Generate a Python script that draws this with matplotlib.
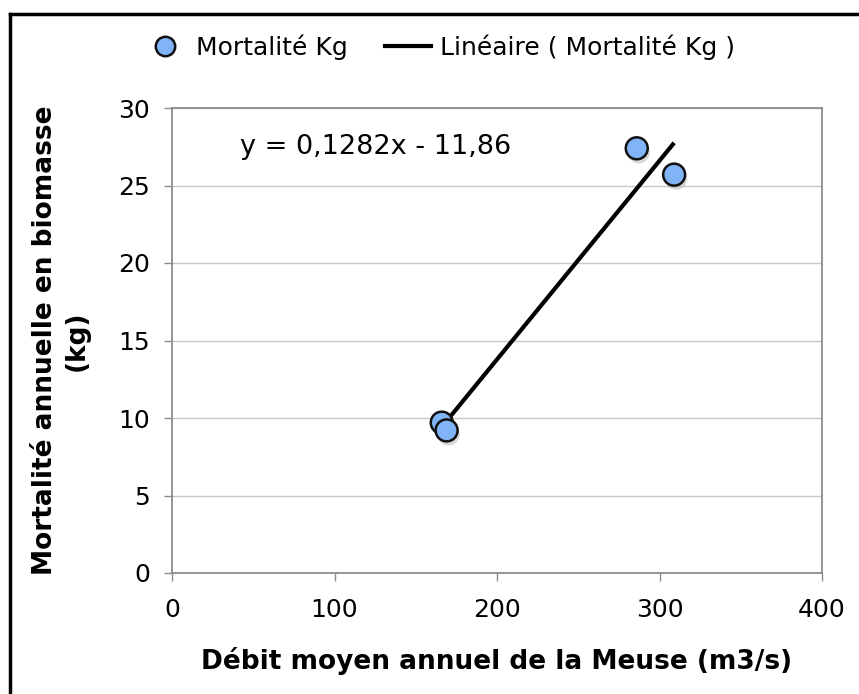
import numpy as np
import matplotlib
matplotlib.use("Agg")
import matplotlib.pyplot as plt
from matplotlib import patheffects
from matplotlib.lines import Line2D

plt.rcParams["font.family"] = ["DejaVu Sans"]

# data
debit = [166, 169, 286, 309]
mortalite = [9.7, 9.2, 27.4, 25.7]
# trend line as printed on the chart
slope = 0.1282
intercept = -11.86
x_ticks = [0, 100, 200, 300, 400]
y_ticks = [0, 5, 10, 15, 20, 25, 30]

fig = plt.figure(figsize=(8.59, 6.94), dpi=100)
ax = fig.add_axes([172 / 859, 1 - 573 / 694, 650 / 859, 465 / 694])

grey = "#8c8c8c"
ax.set_xlim(0, 400)
ax.set_ylim(0, 30)
ax.set_xticks(x_ticks)
ax.set_yticks(y_ticks)
ax.yaxis.grid(True, color="#c8c8c8", lw=1)
ax.set_axisbelow(True)
for s in ax.spines.values():
    s.set_color(grey)
    s.set_linewidth(1.3)
ax.tick_params(direction="out", length=6, width=1, color=grey, labelsize=18)
ax.tick_params(axis="x", pad=12)
ax.tick_params(axis="y", pad=10)

# trend line
xl = np.array([min(debit), max(debit)])
ax.plot(xl, slope * xl + intercept, color="black", lw=3, solid_capstyle="butt",
        zorder=2, label="Linéaire ( Mortalité Kg )")

sc = ax.scatter(debit, mortalite, s=250, color="#80b4f7", edgecolor="#111111",
                linewidth=1.8, zorder=3, label="Mortalité Kg",
                path_effects=[patheffects.SimplePatchShadow(offset=(1.5, -3), shadow_rgbFace="#aaaaaa", alpha=0.45),
                              patheffects.Normal()])

ax.text(42, 27.5, "y = 0,1282x - 11,86", fontsize=19.5, va="center", ha="left")

ax.set_xlabel("Débit moyen annuel de la Meuse (m3/s)", fontsize=19, fontweight="bold", labelpad=18)
ax.set_ylabel("Mortalité annuelle en biomasse\n(kg)", fontsize=19, fontweight="bold", labelpad=20,
              linespacing=1.3)

handles = [Line2D([], [], marker="o", ls="none", markersize=14, markerfacecolor="#80b4f7",
                  markeredgecolor="#111111", markeredgewidth=1.8),
           Line2D([], [], color="black", lw=3)]
fig.legend(handles, ["Mortalité Kg", "Linéaire ( Mortalité Kg )"], loc="center",
           bbox_to_anchor=(438 / 859, 1 - 47 / 694), ncol=2, frameon=False, fontsize=18,
           handlelength=1.85, columnspacing=1.45, handletextpad=0.35)

# outer frame (only left and top are visible in the reference)
fig.add_artist(Line2D([10 / 859, 10 / 859], [0, 1 - 14 / 694], color="black", lw=2.5,
                      transform=fig.transFigure))
fig.add_artist(Line2D([10 / 859, 1], [1 - 14 / 694, 1 - 14 / 694], color="black", lw=2.5,
                      transform=fig.transFigure))

fig.savefig("out.png", dpi=100)
